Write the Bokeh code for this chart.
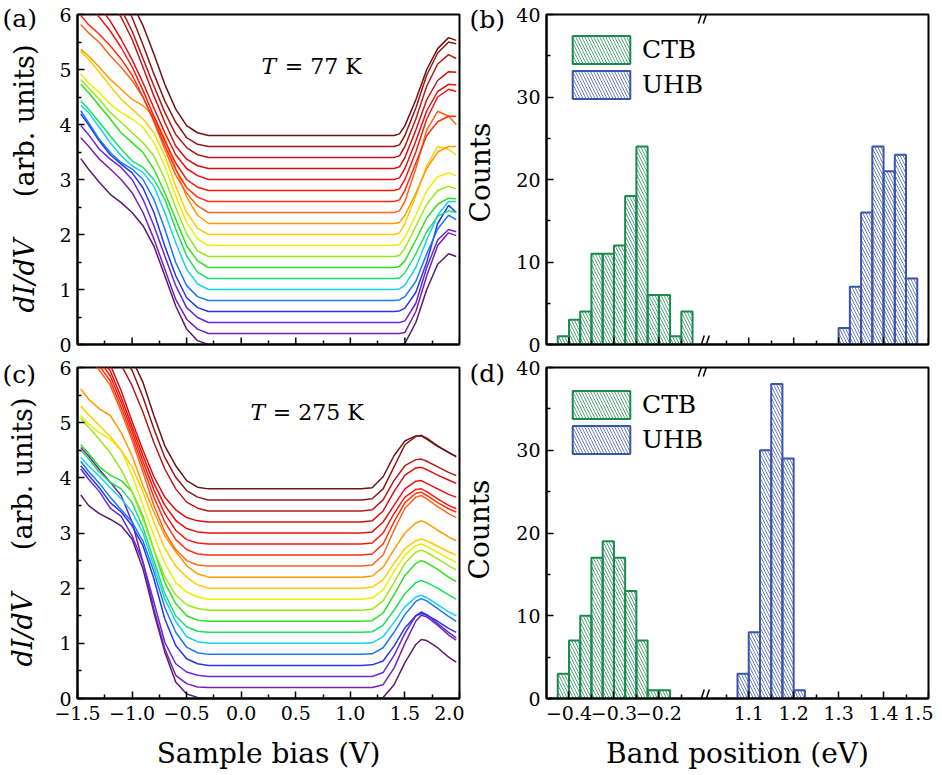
import math
from bokeh.plotting import figure
from bokeh.layouts import row, column
from bokeh.models import FixedTicker, Label, Legend, LegendItem
from bokeh.embed import file_html
from bokeh.resources import INLINE

SERIF = "DejaVu Serif"

# ---------------- dI/dV spectra, T = 77 K (offset 0.0 ... 3.8) ----------------
V_77K = [-1.47, -1.4, -1.3, -1.2, -1.1, -1.0, -0.9, -0.8, -0.7, -0.6, -0.5, -0.4, -0.3,
         1.4, 1.45, 1.5, 1.6, 1.7, 1.8, 1.9, 1.97]
a00 = [3.38, 3.19, 2.95, 2.73, 2.58, 2.4, 2.16, 1.79, 1.25, 0.70, 0.28, 0.07, 0.0, 0.0, 0.0, 0.02, 0.4, 1.0, 1.46, 1.65, 1.6]
a02 = [3.76, 3.61, 3.37, 3.19, 3.0, 2.76, 2.4, 1.92, 1.37, 0.82, 0.46, 0.28, 0.2, 0.2, 0.2, 0.22, 0.6, 1.25, 1.8, 2.03, 1.98]
a04 = [3.98, 3.82, 3.55, 3.37, 3.22, 3.0, 2.64, 2.16, 1.61, 1.07, 0.67, 0.49, 0.4, 0.4, 0.4, 0.43, 0.75, 1.4, 1.9, 2.09, 2.05]
a06 = [4.19, 4.0, 3.7, 3.45, 3.28, 3.12, 2.85, 2.4, 1.79, 1.25, 0.85, 0.67, 0.6, 0.6, 0.61, 0.66, 0.95, 1.5, 2.2, 2.53, 2.4]
a08 = [4.25, 4.04, 3.73, 3.49, 3.31, 3.19, 3.0, 2.64, 2.1, 1.49, 1.07, 0.87, 0.8, 0.8, 0.81, 0.87, 1.15, 1.65, 2.1, 2.35, 2.27]
a10 = [4.35, 4.22, 3.95, 3.67, 3.43, 3.25, 3.13, 2.88, 2.4, 1.85, 1.37, 1.1, 1.0, 1.0, 1.01, 1.08, 1.4, 1.9, 2.35, 2.6, 2.6]
a12 = [4.43, 4.28, 4.04, 3.79, 3.55, 3.34, 3.22, 3.0, 2.64, 2.1, 1.61, 1.31, 1.2, 1.2, 1.21, 1.3, 1.65, 2.05, 2.33, 2.43, 2.4]
a14 = [4.73, 4.58, 4.34, 4.1, 3.85, 3.67, 3.49, 3.19, 2.76, 2.28, 1.79, 1.52, 1.4, 1.4, 1.42, 1.52, 1.9, 2.3, 2.55, 2.66, 2.65]
a16 = [4.82, 4.67, 4.46, 4.22, 4.04, 3.85, 3.67, 3.43, 3.01, 2.49, 2.01, 1.7, 1.6, 1.6, 1.62, 1.75, 2.15, 2.55, 2.8, 2.88, 2.83]
a18 = [4.92, 4.76, 4.58, 4.37, 4.22, 4.1, 3.95, 3.67, 3.25, 2.7, 2.22, 1.92, 1.8, 1.8, 1.82, 1.95, 2.35, 2.8, 3.05, 3.12, 3.07]
a20 = [5.33, 5.19, 4.95, 4.7, 4.46, 4.28, 4.1, 3.85, 3.43, 2.88, 2.4, 2.11, 2.0, 2.0, 2.03, 2.2, 2.7, 3.25, 3.6, 3.55, 3.45]
a22 = [5.37, 5.25, 5.04, 4.82, 4.64, 4.46, 4.34, 4.15, 3.75, 3.2, 2.68, 2.35, 2.2, 2.2, 2.22, 2.35, 2.75, 3.2, 3.5, 3.6, 3.6]
a24 = [5.82, 5.67, 5.49, 5.25, 5.04, 4.8, 4.5, 4.05, 3.55, 3.08, 2.75, 2.52, 2.4, 2.4, 2.43, 2.6, 3.2, 3.9, 4.24, 4.15, 4.0]
a26 = [5.98, 5.82, 5.64, 5.43, 5.19, 4.9, 4.5, 4.08, 3.62, 3.18, 2.85, 2.68, 2.6, 2.6, 2.63, 2.8, 3.3, 3.8, 4.05, 4.15, 4.15]
a28 = [6.3, 6.15, 5.95, 5.7, 5.4, 5.05, 4.62, 4.15, 3.7, 3.3, 3.0, 2.86, 2.8, 2.8, 2.83, 3.0, 3.5, 4.1, 4.5, 4.64, 4.6]
a30 = [6.7, 6.45, 6.15, 5.88, 5.55, 5.18, 4.76, 4.3, 3.85, 3.45, 3.2, 3.07, 3.0, 3.0, 3.03, 3.2, 3.7, 4.25, 4.6, 4.73, 4.72]
a32 = [7.2, 6.9, 6.5, 6.25, 5.95, 5.55, 5.04, 4.52, 4.04, 3.61, 3.37, 3.25, 3.2, 3.2, 3.23, 3.4, 3.9, 4.45, 4.8, 4.96, 4.95]
a34 = [7.4, 7.1, 6.7, 6.4, 6.1, 5.7, 5.2, 4.7, 4.22, 3.82, 3.58, 3.45, 3.4, 3.4, 3.43, 3.6, 4.1, 4.7, 5.1, 5.27, 5.2]
a36 = [7.6, 7.3, 6.9, 6.6, 6.3, 5.95, 5.45, 4.92, 4.43, 4.04, 3.76, 3.64, 3.6, 3.6, 3.63, 3.8, 4.3, 4.9, 5.3, 5.5, 5.47]
a38 = [7.8, 7.5, 7.1, 6.8, 6.5, 6.2, 5.8, 5.28, 4.73, 4.28, 3.98, 3.85, 3.8, 3.8, 3.83, 3.98, 4.45, 5.0, 5.38, 5.58, 5.53]

# ---------------- dI/dV spectra, T = 275 K ----------------
V_275K = [-1.47, -1.4, -1.3, -1.2, -1.1, -1.0, -0.9, -0.8, -0.7, -0.6, -0.5, -0.4, -0.3,
          1.1, 1.2, 1.3, 1.4, 1.5, 1.6, 1.65, 1.7, 1.8, 1.9, 1.97]
c00 = [3.69, 3.5, 3.35, 3.25, 3.13, 2.89, 2.35, 1.56, 0.84, 0.3, 0.08, 0.02, 0.0, 0.0, 0.0, 0.02, 0.25, 0.65, 0.98, 1.07, 1.05, 0.92, 0.75, 0.66]
c02 = [4.55, 4.4, 4.15, 3.92, 3.68, 3.2, 2.47, 1.62, 0.9, 0.42, 0.27, 0.21, 0.2, 0.2, 0.2, 0.25, 0.55, 1.0, 1.4, 1.51, 1.48, 1.33, 1.15, 1.06]
c04 = [4.16, 3.98, 3.75, 3.45, 3.3, 2.95, 2.47, 1.75, 1.02, 0.63, 0.48, 0.42, 0.4, 0.4, 0.4, 0.47, 0.78, 1.18, 1.5, 1.57, 1.52, 1.36, 1.2, 1.1]
c06 = [4.22, 4.05, 3.82, 3.55, 3.38, 3.13, 2.77, 2.17, 1.44, 0.96, 0.72, 0.63, 0.6, 0.6, 0.61, 0.68, 0.95, 1.28, 1.5, 1.54, 1.51, 1.4, 1.27, 1.2]
c08 = [4.3, 4.12, 3.9, 3.65, 3.42, 3.2, 2.85, 2.3, 1.65, 1.2, 0.93, 0.83, 0.8, 0.8, 0.81, 0.92, 1.2, 1.52, 1.76, 1.81, 1.77, 1.63, 1.49, 1.4]
c10 = [4.37, 4.22, 4.03, 3.82, 3.62, 3.38, 3.0, 2.4, 1.8, 1.4, 1.12, 1.03, 1.0, 1.0, 1.01, 1.12, 1.38, 1.66, 1.84, 1.87, 1.83, 1.7, 1.57, 1.5]
c12 = [4.5, 4.35, 4.1, 3.92, 3.8, 3.55, 3.1, 2.5, 1.9, 1.5, 1.3, 1.22, 1.2, 1.2, 1.21, 1.33, 1.6, 1.9, 2.1, 2.14, 2.1, 2.0, 1.88, 1.8]
c14 = [4.6, 4.45, 4.2, 4.05, 3.95, 3.75, 3.3, 2.7, 2.1, 1.72, 1.5, 1.42, 1.4, 1.4, 1.41, 1.55, 1.88, 2.23, 2.45, 2.5, 2.46, 2.34, 2.2, 2.12]
c16 = [5.08, 4.92, 4.7, 4.45, 4.15, 3.75, 3.25, 2.7, 2.2, 1.88, 1.7, 1.63, 1.6, 1.6, 1.62, 1.77, 2.1, 2.45, 2.65, 2.69, 2.65, 2.53, 2.41, 2.33]
c18 = [5.13, 4.98, 4.82, 4.7, 4.5, 4.05, 3.5, 2.95, 2.45, 2.1, 1.93, 1.84, 1.8, 1.8, 1.82, 1.97, 2.3, 2.6, 2.77, 2.8, 2.76, 2.65, 2.54, 2.47]
c20 = [5.3, 5.15, 4.95, 4.75, 4.5, 4.2, 3.75, 3.2, 2.72, 2.4, 2.2, 2.06, 2.0, 2.0, 2.02, 2.15, 2.45, 2.72, 2.86, 2.89, 2.86, 2.76, 2.66, 2.6]
c22 = [5.61, 5.43, 5.25, 5.13, 4.82, 4.4, 3.86, 3.38, 2.95, 2.66, 2.41, 2.26, 2.2, 2.2, 2.22, 2.38, 2.7, 3.0, 3.18, 3.22, 3.18, 3.05, 2.93, 2.86]
c24 = [6.4, 6.2, 5.95, 5.68, 5.2, 4.68, 4.1, 3.5, 3.02, 2.7, 2.5, 2.42, 2.4, 2.4, 2.42, 2.6, 3.05, 3.45, 3.65, 3.68, 3.62, 3.48, 3.35, 3.28]
c26 = [6.5, 6.3, 6.03, 5.76, 5.28, 4.76, 4.2, 3.65, 3.2, 2.88, 2.7, 2.62, 2.6, 2.6, 2.62, 2.8, 3.2, 3.55, 3.72, 3.74, 3.68, 3.55, 3.44, 3.38]
c28 = [6.6, 6.4, 6.12, 5.85, 5.37, 4.85, 4.3, 3.78, 3.35, 3.05, 2.88, 2.82, 2.8, 2.8, 2.82, 3.0, 3.35, 3.65, 3.79, 3.8, 3.75, 3.62, 3.5, 3.44]
c30 = [6.7, 6.5, 6.22, 5.94, 5.46, 4.93, 4.4, 3.9, 3.5, 3.23, 3.08, 3.02, 3.0, 3.0, 3.02, 3.2, 3.5, 3.8, 3.94, 3.95, 3.9, 3.8, 3.7, 3.65]
c32 = [6.8, 6.6, 6.35, 6.05, 5.58, 5.02, 4.5, 4.02, 3.65, 3.42, 3.28, 3.22, 3.2, 3.2, 3.22, 3.4, 3.75, 4.05, 4.18, 4.19, 4.15, 4.05, 3.96, 3.9]
c34 = [7.2, 6.8, 6.5, 6.25, 6.05, 5.67, 5.19, 4.64, 4.16, 3.8, 3.56, 3.45, 3.4, 3.4, 3.42, 3.6, 3.95, 4.22, 4.33, 4.34, 4.3, 4.2, 4.1, 4.04]
c36 = [7.4, 7.0, 6.7, 6.45, 6.2, 5.95, 5.46, 4.89, 4.37, 4.01, 3.77, 3.65, 3.6, 3.6, 3.62, 3.8, 4.2, 4.6, 4.75, 4.77, 4.72, 4.58, 4.46, 4.38]
c38 = [7.6, 7.2, 6.9, 6.6, 6.4, 6.15, 5.73, 5.13, 4.58, 4.22, 3.95, 3.83, 3.8, 3.8, 3.82, 4.02, 4.4, 4.67, 4.76, 4.76, 4.7, 4.57, 4.46, 4.39]

# colours, bottom curve (offset 0.0) to top curve (offset 3.8)
COLORS = ["#5c1a6e", "#7a20b0", "#6428e0", "#2438f0", "#1a7af5", "#14d2f0", "#18e060",
          "#30e020", "#98e818", "#e8f000", "#ffcc00", "#ff9a00", "#ff6418", "#ff3010",
          "#f51a10", "#e81010", "#d41010", "#b81818", "#921818", "#6e1212"]

BIAS_TICKS = [-1.5, -1.0, -0.5, 0.0, 0.5, 1.0, 1.5, 2.0]
BIAS_LABELS = ["\u22121.5", "\u22121.0", "\u22120.5", "0.0", "0.5", "1.0", "1.5", "2.0"]
BIAS_MINOR = [-1.25, -0.75, -0.25, 0.25, 0.75, 1.25, 1.75]
DIDV_TICKS = [0, 1, 2, 3, 4, 5, 6]
DIDV_MINOR = [0.5, 1.5, 2.5, 3.5, 4.5, 5.5]

# ---------------- band-position histograms ----------------
BIN_WIDTH = 0.025
ctb_77_left = [-0.425, -0.4, -0.375, -0.35, -0.325, -0.3, -0.275, -0.25, -0.225, -0.2, -0.175, -0.15]
ctb_77_count = [1, 3, 4, 11, 11, 12, 18, 24, 6, 6, 1, 4]
uhb_77_left = [1.3, 1.325, 1.35, 1.375, 1.4, 1.425, 1.45]
uhb_77_count = [2, 7, 16, 24, 21, 23, 8]
ctb_275_left = [-0.425, -0.4, -0.375, -0.35, -0.325, -0.3, -0.275, -0.25, -0.225, -0.2]
ctb_275_count = [3, 7, 10, 17, 19, 17, 13, 7, 1, 1]
uhb_275_left = [1.075, 1.1, 1.125, 1.15, 1.175, 1.2]
uhb_275_count = [3, 8, 30, 38, 29, 1]

BAND_TICKS = [-0.4, -0.3, -0.2, 1.1, 1.2, 1.3, 1.4, 1.5]
BAND_LABELS = ["\u22120.4", "\u22120.3", "\u22120.2", "1.1", "1.2", "1.3", "1.4", "1.5"]
BAND_MINOR = [-0.35, -0.25, -0.15, 1.05, 1.15, 1.25, 1.35, 1.45]
COUNT_TICKS = [0, 10, 20, 30, 40]
COUNT_MINOR = [5, 15, 25, 35]
BAND_MIN, GAP_LO, GAP_HI, BAND_MAX = -0.45, -0.1, 1.0, 1.5

GREEN = "#1b8a4c"
BLUE = "#3b55ab"

FW = 382          # frame width (px)
PAGE_H = 775      # full page height: the label strips span both rows


def brk(x):
    """map eV onto the broken axis (the gap GAP_LO..GAP_HI is removed)"""
    return round(x - (GAP_HI - GAP_LO) if x >= GAP_HI - 1e-9 else x, 6)


def style(p, xt, xl, xm, yt, ym, show_x_labels, xpos, ypx):
    if show_x_labels:
        p.xaxis.ticker = FixedTicker(ticks=[xpos(v) for v in xt], minor_ticks=[xpos(v) for v in xm])
        p.xaxis.major_label_overrides = {xpos(v): s for v, s in zip(xt, xl)}
    else:
        # no tick labels: minor ticks from the axis, major ticks drawn as short segments
        p.xaxis.ticker = FixedTicker(ticks=[], minor_ticks=[xpos(v) for v in xm])
        p.segment(x0=[xpos(v) for v in xt], y0=0, x1=[xpos(v) for v in xt], y1=7 * ypx,
                  line_color="black", line_width=1.5)
    p.yaxis.ticker = FixedTicker(ticks=yt, minor_ticks=ym)
    for ax in p.axis:
        ax.axis_line_width = 2
        ax.major_tick_in = 7
        ax.major_tick_out = 0
        ax.minor_tick_in = 4
        ax.minor_tick_out = 0
        ax.major_tick_line_width = 1.5
        ax.minor_tick_line_width = 1.5
        ax.major_label_text_font = SERIF
        ax.major_label_text_font_size = "19px"
        ax.major_label_text_color = "black"
        ax.major_label_standoff = 6
        ax.axis_label_text_font = SERIF
        ax.axis_label_text_font_size = "28px"
        ax.axis_label_text_font_style = "normal"
        ax.axis_label_text_color = "black"
    p.xaxis.major_label_standoff = 7 if show_x_labels else 0
    p.xgrid.visible = False
    p.ygrid.visible = False
    p.outline_line_color = "black"
    p.outline_line_width = 2
    p.outline_line_alpha = 1


def make_fig(xr, yr, fh, ml, mr, mt, mb):
    return figure(frame_width=FW, frame_height=fh, x_range=xr, y_range=yr,
                  output_backend="svg", toolbar_location=None,
                  min_border_left=ml, min_border_right=mr,
                  min_border_top=mt, min_border_bottom=mb)


def label_fig(w, h, labels):
    """narrow full-height strip carrying panel tags and y titles (page y = h - y)"""
    f = figure(frame_width=w, frame_height=h, x_range=(0, w), y_range=(0, h),
               output_backend="svg", toolbar_location=None, min_border=0,
               x_axis_type=None, y_axis_type=None)
    f.outline_line_color = None
    for lab in labels:
        f.add_layout(lab)
    return f


def spectra_panel(V, curves, temp, fh, ml, mr, mt, mb, show_x):
    p = make_fig((-1.5, 2.0), (0, 6), fh, ml, mr, mt, mb)
    for ys, col in zip(curves, COLORS):
        p.line(V, ys, line_color=col, line_width=1.5)
    style(p, BIAS_TICKS, BIAS_LABELS, BIAS_MINOR, DIDV_TICKS, DIDV_MINOR, show_x,
          lambda v: v, 6.0 / fh)
    if show_x:
        p.xaxis.axis_label = "Sample bias (V)"
        p.xaxis.axis_label_standoff = 14
    p.add_layout(Label(x=temp[1], y=temp[2], text="T", text_font=SERIF,
                       text_font_size="22px", text_font_style="italic",
                       text_align="left", text_baseline="middle", text_color="black"))
    p.add_layout(Label(x=temp[3], y=temp[2], text=temp[0], text_font=SERIF,
                       text_font_size="22px", text_align="left", text_baseline="middle",
                       text_color="black"))
    return p


def hist_panel(ctb_left, ctb_count, uhb_left, uhb_count, legend_top, fh, ml, mr, mt, mb, show_x):
    p = make_fig((BAND_MIN, brk(BAND_MAX)), (0, 40), fh, ml, mr, mt, mb)
    items = []
    for name, lefts, counts, col in (("CTB", ctb_left, ctb_count, GREEN),
                                     ("UHB", uhb_left, uhb_count, BLUE)):
        r = p.quad(left=[brk(v) for v in lefts], right=[brk(v + BIN_WIDTH) for v in lefts],
                   bottom=0, top=counts, fill_color="white", fill_alpha=0.0,
                   line_color=col, line_width=2,
                   hatch_pattern="left_diagonal_line", hatch_color=col, hatch_alpha=0.75,
                   hatch_scale=6, hatch_weight=1)
        items.append(LegendItem(label=name, renderers=[r]))
    xpx = (brk(BAND_MAX) - BAND_MIN) / FW
    ypx = 40.0 / fh
    style(p, BAND_TICKS, BAND_LABELS, BAND_MINOR, COUNT_TICKS, COUNT_MINOR, show_x, brk, ypx)
    if show_x:
        p.xaxis.axis_label = "Band position (eV)"
        p.xaxis.axis_label_standoff = 14
    leg = Legend(items=items, location=(19, fh - legend_top - 70),
                 glyph_width=72, glyph_height=35, label_height=35, spacing=0,
                 padding=0, margin=0, label_standoff=5,
                 label_text_font=SERIF, label_text_font_size="25px",
                 label_text_color="black",
                 border_line_alpha=0, background_fill_alpha=0)
    p.add_layout(leg)
    # axis-break marks "//" on the bottom axis and on the top frame line
    for yb in (0, 40):
        for dx in (-5.0, 0.0):
            p.segment(x0=GAP_LO + (dx - 0.5) * xpx, y0=yb - 9 * ypx,
                      x1=GAP_LO + (dx + 5.5) * xpx, y1=yb + 9 * ypx,
                      line_color="black", line_width=1.5)
    return p


def tag(x, page_y, text):
    return Label(x=x, y=PAGE_H - page_y, text=text, text_font=SERIF, text_font_size="25px",
                 text_align="left", text_baseline="top", text_color="black")


def ytitle_didv(x, page_bottom, page_top):
    # italic "dI/dV" grows upward from page_bottom, "(arb. units)" ends at page_top
    return [Label(x=x, y=PAGE_H - page_bottom, text="dI/dV", angle=math.pi / 2,
                  text_font=SERIF, text_font_size="27px", text_font_style="italic",
                  text_align="left", text_baseline="middle", text_color="black"),
            Label(x=x, y=PAGE_H - page_top, text="(arb. units)", angle=math.pi / 2,
                  text_font=SERIF, text_font_size="27px", text_align="right",
                  text_baseline="middle", text_color="black")]


def ytitle_counts(x, page_center):
    return Label(x=x, y=PAGE_H - page_center, text="Counts", angle=math.pi / 2,
                 text_font=SERIF, text_font_size="28px", text_align="center",
                 text_baseline="middle", text_color="black")


curves_77 = [a00, a02, a04, a06, a08, a10, a12, a14, a16, a18,
             a20, a22, a24, a26, a28, a30, a32, a34, a36, a38]
curves_275 = [c00, c02, c04, c06, c08, c10, c12, c14, c16, c18,
              c20, c22, c24, c26, c28, c30, c32, c34, c36, c38]

left_strip = label_fig(42, PAGE_H,
                       [tag(2, 3, "(a)"), tag(2, 359, "(c)")]
                       + ytitle_didv(24, 312, 44) + ytitle_didv(22, 666, 397))
mid_strip = label_fig(41, PAGE_H,
                      [tag(5, 4, "(b)"), tag(5, 358, "(d)"),
                       ytitle_counts(16, 172), ytitle_counts(15, 529)])

pa = spectra_panel(V_77K, curves_77, ("= 77 K", 0.186, 5.05, 0.40), 330, 32, 8, 14, 12, False)
pc = spectra_panel(V_275K, curves_275, ("= 275 K", 0.086, 5.19, 0.29), 331, 35, 5, 11, 77, True)
pb = hist_panel(ctb_77_left, ctb_77_count, uhb_77_left, uhb_77_count, 18, 330, 40, 6, 14, 12, False)
pd = hist_panel(ctb_275_left, ctb_275_count, uhb_275_left, uhb_275_count, 20, 331, 41, 5, 11, 77, True)

layout = row(left_strip, column(pa, pc), mid_strip, column(pb, pd))
open("out.html", "w").write(file_html(layout, INLINE))
